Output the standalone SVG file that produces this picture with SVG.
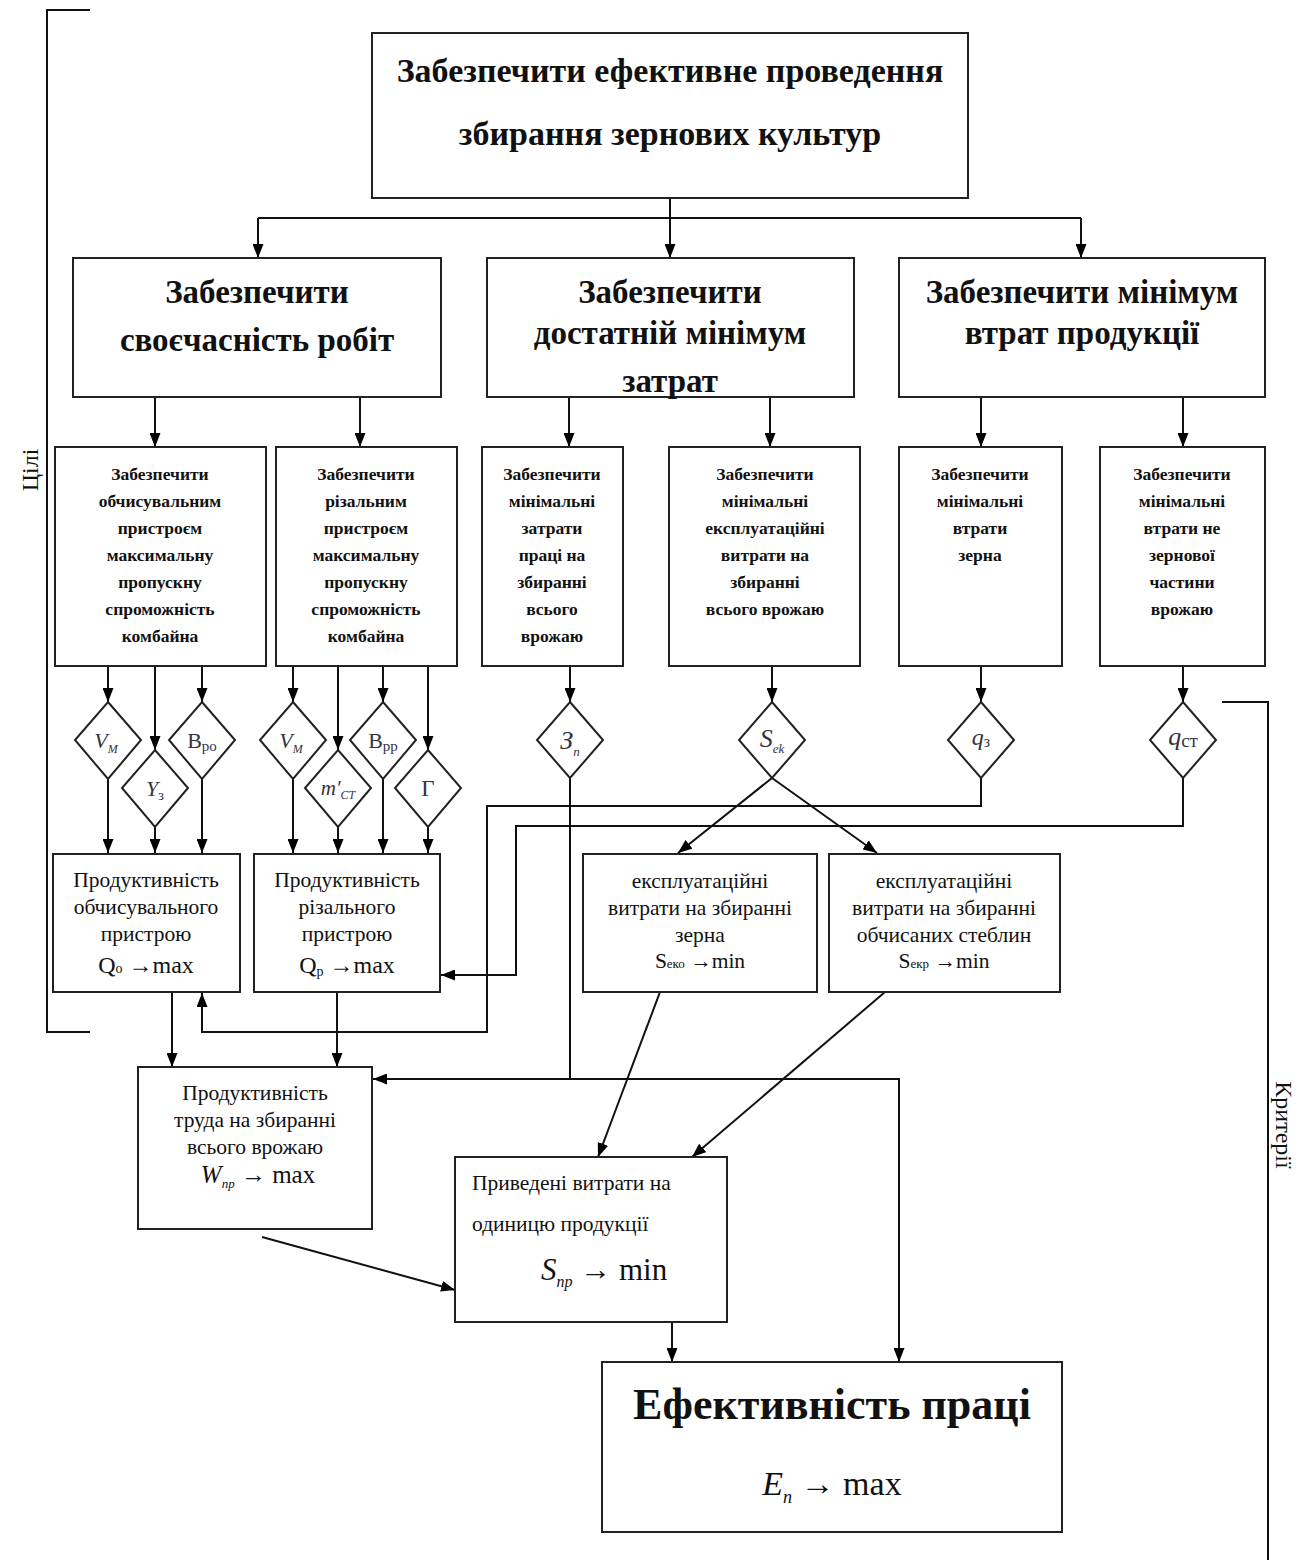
<svg xmlns="http://www.w3.org/2000/svg" width="1308" height="1560" viewBox="0 0 1308 1560">
<defs>
<marker id="ah" viewBox="0 0 14 11" refX="14" refY="5.5" markerWidth="14" markerHeight="11" orient="auto" markerUnits="userSpaceOnUse"><path d="M0,0 L14,5.5 L0,11 z" fill="#000"/></marker>
<style>
.box{fill:#fff;stroke:#222;stroke-width:2}
.dia{fill:#fff;stroke:#222;stroke-width:2}
.c{fill:none;stroke:#111;stroke-width:2}
.a{fill:none;stroke:#111;stroke-width:2;marker-end:url(#ah)}
text{font-family:"Liberation Serif","DejaVu Serif",serif;fill:#111;text-anchor:middle}
text.l{text-anchor:start}
.t1{font-size:34px;font-weight:bold}
.t2{font-size:33px;font-weight:bold}
.t3{font-size:17.5px;font-weight:bold}
.t4{font-size:21.5px}
.f{font-size:24px}
.it{font-style:italic}
.sym{fill:#333344}
</style>
</defs>
<rect width="1308" height="1560" fill="#fff"/>

<g id="brackets">
<path class="c" d="M90,10 H47 V1032 H90"/>
<path class="c" d="M1222,702 H1268 V1560"/>
<text transform="translate(38,470) rotate(-90)" font-size="24">Цілі</text>
<text transform="translate(1276,1125) rotate(90)" font-size="24">Критерії</text>
</g>

<g id="connectors">
<path class="a" d="M670,198 V258"/>
<path class="c" d="M258,218 H1081"/>
<path class="a" d="M258,218 V258"/>
<path class="a" d="M1081,218 V258"/>
<path class="a" d="M155,397 V447"/>
<path class="a" d="M360,397 V447"/>
<path class="a" d="M569,397 V447"/>
<path class="a" d="M770,397 V447"/>
<path class="a" d="M981,397 V447"/>
<path class="a" d="M1183,397 V447"/>
<path class="a" d="M108,666 V702"/>
<path class="a" d="M155,666 V750"/>
<path class="a" d="M202,666 V702"/>
<path class="a" d="M293,666 V702"/>
<path class="a" d="M338,666 V750"/>
<path class="a" d="M383,666 V702"/>
<path class="a" d="M428,666 V750"/>
<path class="a" d="M570,666 V702"/>
<path class="a" d="M772,666 V702"/>
<path class="a" d="M981,666 V702"/>
<path class="a" d="M1183,666 V702"/>
<path class="a" d="M108,779 V853"/>
<path class="a" d="M155,827 V853"/>
<path class="a" d="M202,779 V853"/>
<path class="a" d="M293,779 V853"/>
<path class="a" d="M338,827 V853"/>
<path class="a" d="M383,779 V853"/>
<path class="a" d="M428,827 V853"/>
<path class="a" d="M772,778 L678,853"/>
<path class="a" d="M772,778 L877,853"/>
<path class="a" d="M981,778 V806 H487 V1032 H202 V993"/>
<path class="a" d="M1183,778 V826 H516 V975 H441"/>
<path class="a" d="M570,778 V1079 H373"/>
<path class="a" d="M570,1079 H899 V1362"/>
<path class="a" d="M172,992 V1067"/>
<path class="a" d="M337,992 V1067"/>
<path class="a" d="M660,992 L598,1157"/>
<path class="a" d="M885,992 L692,1157"/>
<path class="a" d="M262,1237 L455,1290"/>
<path class="a" d="M672,1322 V1362"/>
</g>

<g id="n-top">
<rect class="box" x="372" y="33" width="596" height="165"/>
<text class="t1" x="670" y="82">Забезпечити ефективне проведення</text>
<text class="t1" x="670" y="145">збирання зернових культур</text>
</g>

<g id="n-g1">
<rect class="box" x="73" y="258" width="368" height="139"/>
<text class="t2" x="257" y="303">Забезпечити</text>
<text class="t2" x="257" y="351">своєчасність робіт</text>
</g>
<g id="n-g2">
<rect class="box" x="487" y="258" width="367" height="139"/>
<text class="t2" x="670" y="303">Забезпечити</text>
<text class="t2" x="670" y="344">достатній мінімум</text>
<text class="t2" x="670" y="392">затрат</text>
</g>
<g id="n-g3">
<rect class="box" x="899" y="258" width="366" height="139"/>
<text class="t2" x="1082" y="303">Забезпечити мінімум</text>
<text class="t2" x="1082" y="344">втрат продукції</text>
</g>

<g id="n-s1">
<rect class="box" x="55" y="447" width="211" height="219"/>
<text class="t3" x="160" y="480">Забезпечити</text>
<text class="t3" x="160" y="507">обчисувальним</text>
<text class="t3" x="160" y="534">пристроєм</text>
<text class="t3" x="160" y="561">максимальну</text>
<text class="t3" x="160" y="588">пропускну</text>
<text class="t3" x="160" y="615">спроможність</text>
<text class="t3" x="160" y="642">комбайна</text>
</g>
<g id="n-s2">
<rect class="box" x="276" y="447" width="181" height="219"/>
<text class="t3" x="366" y="480">Забезпечити</text>
<text class="t3" x="366" y="507">різальним</text>
<text class="t3" x="366" y="534">пристроєм</text>
<text class="t3" x="366" y="561">максимальну</text>
<text class="t3" x="366" y="588">пропускну</text>
<text class="t3" x="366" y="615">спроможність</text>
<text class="t3" x="366" y="642">комбайна</text>
</g>
<g id="n-s3">
<rect class="box" x="482" y="447" width="141" height="219"/>
<text class="t3" x="552" y="480">Забезпечити</text>
<text class="t3" x="552" y="507">мінімальні</text>
<text class="t3" x="552" y="534">затрати</text>
<text class="t3" x="552" y="561">праці на</text>
<text class="t3" x="552" y="588">збиранні</text>
<text class="t3" x="552" y="615">всього</text>
<text class="t3" x="552" y="642">врожаю</text>
</g>
<g id="n-s4">
<rect class="box" x="669" y="447" width="191" height="219"/>
<text class="t3" x="765" y="480">Забезпечити</text>
<text class="t3" x="765" y="507">мінімальні</text>
<text class="t3" x="765" y="534">експлуатаційні</text>
<text class="t3" x="765" y="561">витрати на</text>
<text class="t3" x="765" y="588">збиранні</text>
<text class="t3" x="765" y="615">всього врожаю</text>
</g>
<g id="n-s5">
<rect class="box" x="899" y="447" width="163" height="219"/>
<text class="t3" x="980" y="480">Забезпечити</text>
<text class="t3" x="980" y="507">мінімальні</text>
<text class="t3" x="980" y="534">втрати</text>
<text class="t3" x="980" y="561">зерна</text>
</g>
<g id="n-s6">
<rect class="box" x="1100" y="447" width="165" height="219"/>
<text class="t3" x="1182" y="480">Забезпечити</text>
<text class="t3" x="1182" y="507">мінімальні</text>
<text class="t3" x="1182" y="534">втрати не</text>
<text class="t3" x="1182" y="561">зернової</text>
<text class="t3" x="1182" y="588">частини</text>
<text class="t3" x="1182" y="615">врожаю</text>
</g>

<g id="d-vm1">
<polygon class="dia" points="108,702 141,740 108,779 75,740"/>
<text class="sym it" x="106" y="748" font-size="22">V<tspan font-size="12" dy="5">М</tspan></text>
</g>
<g id="d-yz">
<polygon class="dia" points="155,750 188,788 155,827 122,788"/>
<text class="sym it" x="155" y="796" font-size="22">Y<tspan font-size="14" dy="4" font-style="normal">з</tspan></text>
</g>
<g id="d-bro">
<polygon class="dia" points="202,702 235,740 202,779 169,740"/>
<text class="sym" x="202" y="748" font-size="22">В<tspan font-size="15" dy="3">ро</tspan></text>
</g>
<g id="d-vm2">
<polygon class="dia" points="293,702 326,740 293,779 260,740"/>
<text class="sym it" x="291" y="748" font-size="22">V<tspan font-size="12" dy="5">М</tspan></text>
</g>
<g id="d-mct">
<polygon class="dia" points="338,750 371,788 338,827 305,788"/>
<text class="sym it" x="338" y="795" font-size="21">m′<tspan font-size="12" dy="4">CT</tspan></text>
</g>
<g id="d-bpp">
<polygon class="dia" points="383,702 416,740 383,779 350,740"/>
<text class="sym" x="383" y="748" font-size="22">В<tspan font-size="15" dy="3">рр</tspan></text>
</g>
<g id="d-g">
<polygon class="dia" points="428,750 461,788 428,827 395,788"/>
<text class="sym" x="428" y="796" font-size="23">Г</text>
</g>
<g id="d-zn">
<polygon class="dia" points="570,702 603,740 570,778 537,740"/>
<text class="sym it" x="570" y="749" font-size="26">З<tspan font-size="13" dy="7">n</tspan></text>
</g>
<g id="d-sek">
<polygon class="dia" points="772,702 805,740 772,778 739,740"/>
<text class="sym it" x="772" y="747" font-size="26">S<tspan font-size="13" dy="6">ek</tspan></text>
</g>
<g id="d-qz">
<polygon class="dia" points="981,702 1014,740 981,778 948,740"/>
<text class="sym it" x="981" y="745" font-size="24">q<tspan font-size="16" dy="2" font-style="normal">з</tspan></text>
</g>
<g id="d-qct">
<polygon class="dia" points="1183,702 1216,740 1183,778 1150,740"/>
<text class="sym it" x="1183" y="745" font-size="26">q<tspan font-size="19" dy="2" font-style="normal">ст</tspan></text>
</g>

<g id="n-qo">
<rect class="box" x="53" y="854" width="187" height="138"/>
<text class="t4" x="146" y="887">Продуктивність</text>
<text class="t4" x="146" y="914">обчисувального</text>
<text class="t4" x="146" y="941">пристрою</text>
<text class="f" x="146" y="973">Q<tspan font-size="14">о</tspan> →max</text>
</g>
<g id="n-qp">
<rect class="box" x="254" y="854" width="186" height="138"/>
<text class="t4" x="347" y="887">Продуктивність</text>
<text class="t4" x="347" y="914">різального</text>
<text class="t4" x="347" y="941">пристрою</text>
<text class="f" x="347" y="973">Q<tspan font-size="14" dy="3">р</tspan><tspan dy="-3"> →max</tspan></text>
</g>
<g id="n-seko">
<rect class="box" x="583" y="854" width="234" height="138"/>
<text class="t4" x="700" y="888">експлуатаційні</text>
<text class="t4" x="700" y="915">витрати на збиранні</text>
<text class="t4" x="700" y="942">зерна</text>
<text class="t4" x="700" y="968">S<tspan font-size="13">еко</tspan> →min</text>
</g>
<g id="n-sekr">
<rect class="box" x="829" y="854" width="231" height="138"/>
<text class="t4" x="944" y="888">експлуатаційні</text>
<text class="t4" x="944" y="915">витрати на збиранні</text>
<text class="t4" x="944" y="942">обчисаних стеблин</text>
<text class="t4" x="944" y="968">S<tspan font-size="13">екр</tspan> →min</text>
</g>

<g id="n-w">
<rect class="box" x="138" y="1067" width="234" height="162"/>
<text class="t4" x="255" y="1100">Продуктивність</text>
<text class="t4" x="255" y="1127">труда на збиранні</text>
<text class="t4" x="255" y="1154">всього врожаю</text>
<text x="258" y="1183" font-size="25"><tspan font-style="italic">W</tspan><tspan font-style="italic" font-size="13" dy="5">пр</tspan><tspan dy="-5"> → max</tspan></text>
</g>

<g id="n-snp">
<rect class="box" x="455" y="1157" width="272" height="165"/>
<text class="t4 l" x="472" y="1190">Приведені витрати на</text>
<text class="t4 l" x="472" y="1231">одиницю продукції</text>
<text class="l" x="541" y="1280" font-size="31"><tspan font-style="italic">S</tspan><tspan font-style="italic" font-size="16" dy="7">пр</tspan><tspan dy="-7"> → min</tspan></text>
</g>

<g id="n-e">
<rect class="box" x="602" y="1362" width="460" height="170"/>
<text x="832" y="1419" font-size="44" font-weight="bold">Ефективність праці</text>
<text x="832" y="1495" font-size="34"><tspan font-style="italic">E</tspan><tspan font-style="italic" font-size="18" dy="8">n</tspan><tspan dy="-8"> → max</tspan></text>
</g>
</svg>
